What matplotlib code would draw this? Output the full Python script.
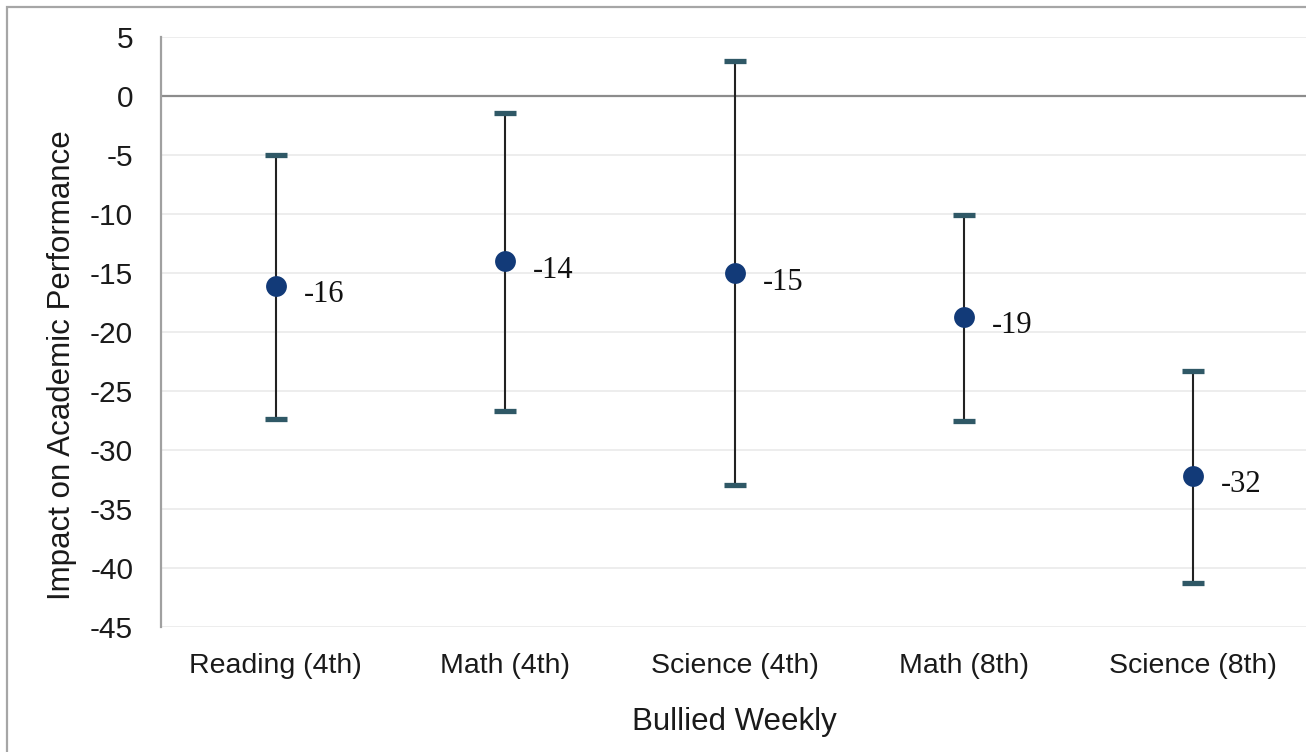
import matplotlib
matplotlib.use("Agg")
import matplotlib.pyplot as plt
from matplotlib.patches import Rectangle

# Effect of weekly bullying on test scores, with confidence intervals
categories = ["Reading (4th)", "Math (4th)", "Science (4th)", "Math (8th)", "Science (8th)"]
estimates = [-16.1, -14.0, -15.0, -18.7, -32.2]
upper = [-5.0, -1.4, 3.0, -10.1, -23.3]
lower = [-27.4, -26.7, -33.0, -27.5, -41.3]
yticks = [5, 0, -5, -10, -15, -20, -25, -30, -35, -40, -45]

W, H = 1306, 752
fig = plt.figure(figsize=(W / 100, H / 100), dpi=100)
fig.patch.set_facecolor("white")

# outer frame of the chart area
fig.add_artist(Rectangle((7 / W, -0.1), 1.2, (H - 7) / H + 0.1,
                         transform=fig.transFigure, fill=False,
                         edgecolor="#a6a6a6", linewidth=1.6, zorder=0))

ax = fig.add_axes([161 / W, 125 / H, 1147 / W, 590 / H])
x = list(range(len(categories)))

ax.set_xlim(-0.5, len(categories) - 0.5)
ax.set_ylim(-45, 5)
ax.set_yticks(yticks)
ax.set_yticklabels([str(t) for t in yticks])
ax.set_xticks(x)
ax.set_xticklabels(categories)

for t in yticks:
    if t == 0:
        ax.axhline(t, color="#8c8c8c", linewidth=1.6, zorder=1)
    else:
        ax.axhline(t, color="#ececec", linewidth=1.3, zorder=0.5)

for s in ["top", "right", "bottom"]:
    ax.spines[s].set_visible(False)
ax.spines["left"].set_color("#a0a0a0")
ax.spines["left"].set_linewidth(1.6)

ax.tick_params(axis="both", length=0)
ax.tick_params(axis="y", pad=20, labelsize=21.5, labelcolor="#1a1a1a")
ax.tick_params(axis="x", pad=19, labelsize=20.5, labelcolor="#1a1a1a")
for lab in ax.get_xticklabels() + ax.get_yticklabels():
    lab.set_fontfamily("Liberation Sans")

# whiskers
ax.vlines(x, lower, upper, color="#222222", linewidth=1.5, zorder=2)
# caps
ax.plot(x, upper, linestyle="none", marker="_", markersize=16,
        markeredgewidth=3.8, color="#2f5866", zorder=3)
ax.plot(x, lower, linestyle="none", marker="_", markersize=16,
        markeredgewidth=3.8, color="#2f5866", zorder=3)
# point estimates
ax.plot(x, estimates, linestyle="none", marker="o", markersize=15,
        color="#123a78", markeredgewidth=0, zorder=4)

for xi, v in zip(x, estimates):
    ax.annotate(f"{round(v):d}", (xi, v), xytext=(28, -9),
                textcoords="offset pixels", ha="left", va="center",
                fontsize=22, fontfamily="Liberation Serif", color="#111111")

ax.set_ylabel("Impact on Academic Performance", fontsize=22.5,
              fontfamily="Liberation Sans", color="#1a1a1a", labelpad=14)
ax.yaxis.set_label_coords(-0.073, 0.444)
ax.set_xlabel("Bullied Weekly", fontsize=22.5, fontfamily="Liberation Sans",
              color="#1a1a1a", labelpad=20)

fig.savefig("out.png", dpi=100, facecolor="white")
